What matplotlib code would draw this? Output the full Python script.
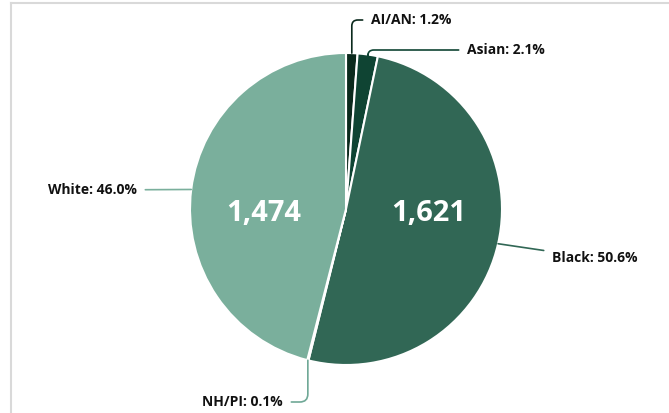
import numpy as np
import matplotlib.pyplot as plt

# race breakdown, clockwise from the top
races = ['AI/AN', 'Asian', 'Black', 'NH/PI', 'White']
counts = [38, 67, 1621, 4, 1474]
pct_labels = ['1.2%', '2.1%', '50.6%', '0.1%', '46.0%']
colors = ['#0b2a1d', '#0f4433', '#316755', '#6fa896', '#7aaf9c']
show_count = [False, False, True, False, True]

W, H = 669, 413
cx, cy, r = 346, 209, 156

fig = plt.figure(figsize=(W / 100, H / 100), dpi=100)
ax = fig.add_axes([(cx - r) / W, (H - cy - r) / H, 2 * r / W, 2 * r / H])

wedges, _ = ax.pie(counts, colors=colors, startangle=90, counterclock=False,
                   radius=1, wedgeprops=dict(edgecolor='white', linewidth=1.5))
ax.set_xlim(-1, 1)
ax.set_ylim(-1, 1)
ax.axis('off')


def px(x, y):
    return ((x - cx) / r, (cy - y) / r)


# label text anchors (pixel), alignment, connection style
label_pos = {
    'AI/AN': ((371, 20), 'left', 'angle,angleA=0,angleB=90,rad=6'),
    'Asian': ((467, 50), 'left', 'angle,angleA=0,angleB=90,rad=6'),
    'Black': ((552, 258), 'left', 'arc3,rad=0'),
    'NH/PI': ((283, 402), 'right', 'angle,angleA=0,angleB=90,rad=8'),
    'White': ((137, 190), 'right', 'arc3,rad=0'),
}

font = ['Open Sans', 'DejaVu Sans']
for w, name, pct, col, cnt, sc in zip(wedges, races, pct_labels, colors, counts, show_count):
    mid = np.deg2rad((w.theta1 + w.theta2) / 2)
    edge = (np.cos(mid), np.sin(mid))
    (tx, ty), ha, cs = label_pos[name]
    ax.annotate(f'{name}: {pct}', xy=edge, xytext=px(tx, ty), ha=ha, va='center',
                fontsize=10, fontweight='bold', family=font, color='#111111',
                annotation_clip=False,
                arrowprops=dict(arrowstyle='-', color=col, lw=1.2,
                                connectionstyle=cs, shrinkA=4, shrinkB=0))
    if sc:
        ax.text(0.53 * np.sign(np.cos(mid)), -0.03, f'{cnt:,}',
                ha='center', va='center', fontsize=21, fontweight='bold',
                family=font, color='white')

# light frame on top and left
fig.add_artist(plt.Line2D([11 / W, 1], [1 - 3 / H, 1 - 3 / H], color='#d9d9d9', lw=1.5))
fig.add_artist(plt.Line2D([11 / W, 11 / W], [0, 1 - 3 / H], color='#d9d9d9', lw=1.5))

fig.savefig('out.png', dpi=100)
